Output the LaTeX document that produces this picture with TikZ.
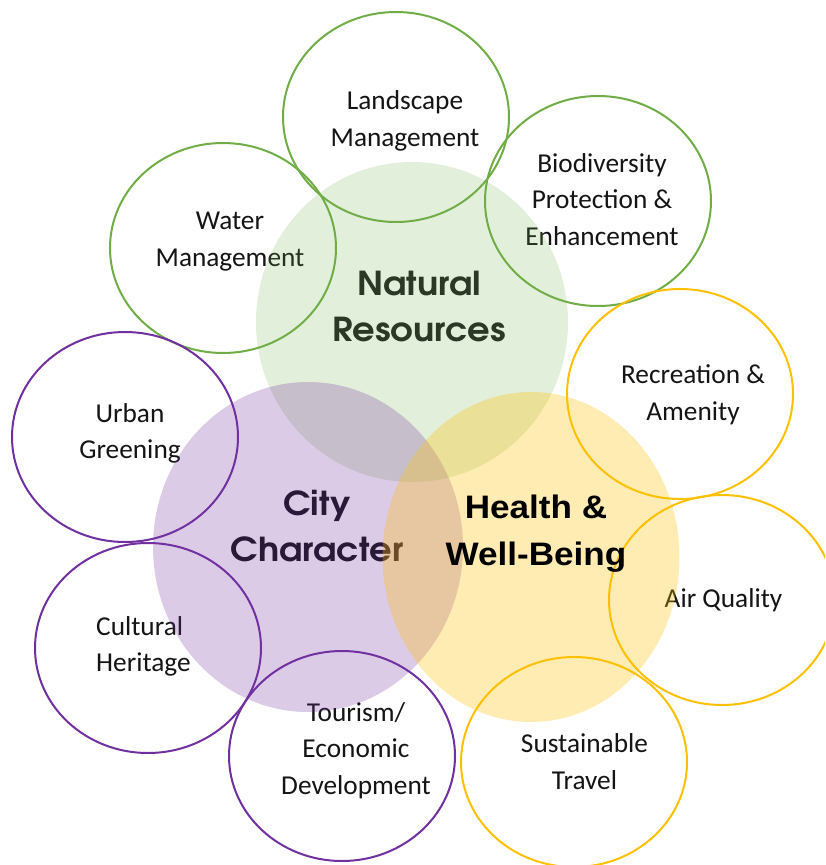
\documentclass[tikz,border=0pt]{standalone}
\usepackage{fontspec}
\setmainfont{Carlito}
\newfontfamily\gothic{texgyreadventor}[Extension=.otf, UprightFont=*-regular, BoldFont=*-bold, FakeStretch=1.07]
\newfontfamily\arialf{Liberation Sans}[FakeStretch=1.08]
\usetikzlibrary{shapes.geometric}
\definecolor{cgreen}{HTML}{70AD47}
\definecolor{cpurple}{HTML}{7030A0}
\definecolor{cyellow}{HTML}{FFC000}
\definecolor{tgreen}{HTML}{2B3826}
\definecolor{tpurple}{HTML}{2A1838}
\definecolor{tsmall}{HTML}{141414}
\begin{document}
\begin{tikzpicture}[x=1pt,y=-1pt,
  smallc/.style={ellipse, draw, line width=2pt, minimum width=226pt, minimum height=210pt, inner sep=0pt},
  bigc/.style={ellipse, draw=none, inner sep=0pt},
  smalltext/.style={font=\fontsize{27.3}{36.5}\selectfont, align=center, inner sep=0pt, text=tsmall},
  bigtext/.style={font=\gothic\bfseries\fontsize{33}{46}\selectfont, align=center, inner sep=0pt},
  healthtext/.style={font=\arialf\bfseries\fontsize{32.5}{46.7}\selectfont, align=center, inner sep=0pt, text=black}]
\clip (0,0) rectangle (825,865);
% small circles (outlines and texts), under the big disks
\node[smallc, draw=cgreen] (landC) at (396,117) {};
\node[smallc, draw=cgreen] (bioC) at (598,201) {};
\node[smallc, draw=cgreen] (waterC) at (223,248) {};
\node[smallc, draw=cyellow] (recC) at (680,394) {};
\node[smallc, draw=cpurple] (urbanC) at (125,437) {};
\node[smallc, draw=cyellow] (airC) at (722,600) {};
\node[smallc, draw=cpurple] (cultC) at (148,648) {};
\node[smallc, draw=cpurple] (tourC) at (342,756) {};
\node[smallc, draw=cyellow] (travC) at (574,762) {};
\node[smalltext] (landT) at (405,121) {Landscape\\Management};
\node[smalltext] (bioT) at (602,199.5) {Biodiversity\\Protection \&\\Enhancement};
\node[smalltext] (waterT) at (230,241.5) {Water\\Management};
\node[smalltext] (recT) at (693,395) {Recreation \&\\Amenity};
\node[smalltext] (urbanT) at (130,433.5) {Urban\\Greening};
\node[smalltext] (airT) at (723.5,600) {Air Quality};
\node[smalltext, anchor=west, align=left] (cultT) at (96,646.5) {Cultural\\Heritage};
\node[smalltext] (tourT) at (356,750.5) {Tourism/\\Economic\\Development};
\node[smalltext] (travT) at (584.5,761.5) {Sustainable\\Travel};
% big disks
\node[bigc, fill=cgreen, fill opacity=0.2, minimum width=312pt, minimum height=320pt] (natC) at (412,322) {};
\node[bigc, fill=cpurple, fill opacity=0.25, minimum width=310pt, minimum height=330pt] (cityC) at (308,547) {};
\node[bigtext, text=tgreen] (natT) at (419,307) {Natural\\Resources};
\node[bigtext, text=tpurple] (cityT) at (317,526) {City\\Character};
\node[bigc, fill=cyellow, fill opacity=0.3, minimum width=297pt, minimum height=330pt] (healthC) at (531,557) {};
\node[healthtext] (healthT) at (536,533.5) {Health \&\\Well-Being};
\end{tikzpicture}
\end{document}
